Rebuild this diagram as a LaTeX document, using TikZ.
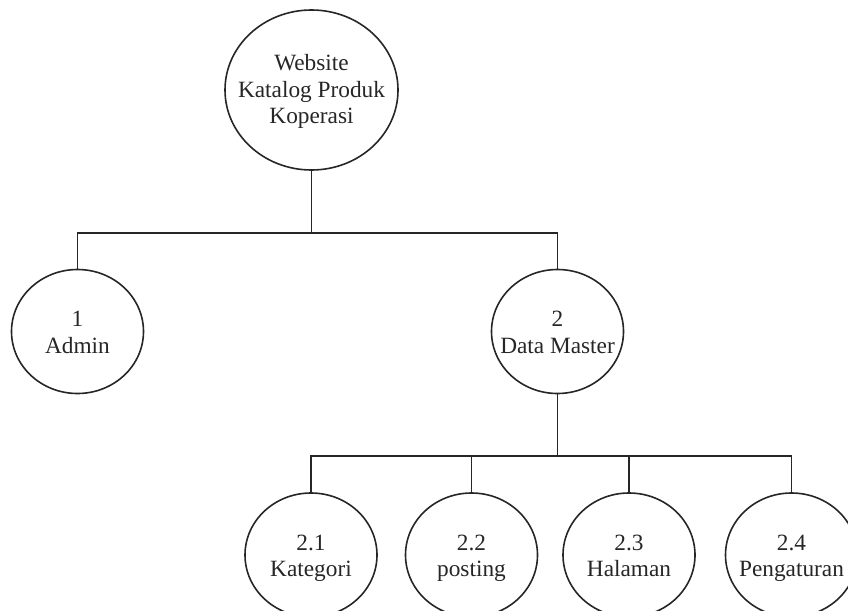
\documentclass[tikz,border=0pt]{standalone}
\usepackage{fontspec}
\setmainfont{Liberation Serif}
\usetikzlibrary{shapes.geometric}
\begin{document}
\begin{tikzpicture}[x=1pt,y=-1pt,
  proc/.style={ellipse,draw=black!85,line width=1.6pt,inner sep=0pt,
    minimum width=132pt,minimum height=124pt},
  lbl/.style={align=center,inner sep=0pt,text=black!85,
    font=\fontsize{23.3}{26.5}\selectfont,yshift=-3pt},
  link/.style={draw=black!85,line width=1.6pt}]
\useasboundingbox (0,0) rectangle (848,610);
\clip (0,0) rectangle (848,610);
% root process
\node[proc,minimum width=173pt,minimum height=160pt,
  label={[lbl,yshift=1pt]center:{\strut Website\\\strut Katalog Produk\\\strut Koperasi}}]
  (root) at (311.5,90) {};
% level 1
\node[proc,label={[lbl]center:{\strut 1\\\strut Admin}}] (admin) at (77.5,331.5) {};
\node[proc,label={[lbl]center:{\strut 2\\\strut Data Master}}] (dm) at (557.5,331.5) {};
% level 2
\node[proc,label={[lbl]center:{\strut 2.1\\\strut Kategori}}] (kat) at (311,555) {};
\node[proc,label={[lbl]center:{\strut 2.2\\\strut posting}}] (post) at (471.5,555) {};
\node[proc,label={[lbl]center:{\strut 2.3\\\strut Halaman}}] (hal) at (629,555) {};
\node[proc,label={[lbl]center:{\strut 2.4\\\strut Pengaturan}}] (peng) at (791.5,555) {};
% junctions of the tree lines
\coordinate (j1) at (311.5,233);
\coordinate (j2) at (557.5,456);
\draw[link] (root.south) -- (j1);
\draw[link] (j1) -| (admin.north);
\draw[link] (j1) -| (dm.north);
\draw[link] (dm.south) -- (j2);
\draw[link] (j2) -| (kat.north);
\draw[link] (j2) -| (post.north);
\draw[link] (j2) -| (hal.north);
\draw[link] (j2) -| (peng.north);
\end{tikzpicture}
\end{document}
